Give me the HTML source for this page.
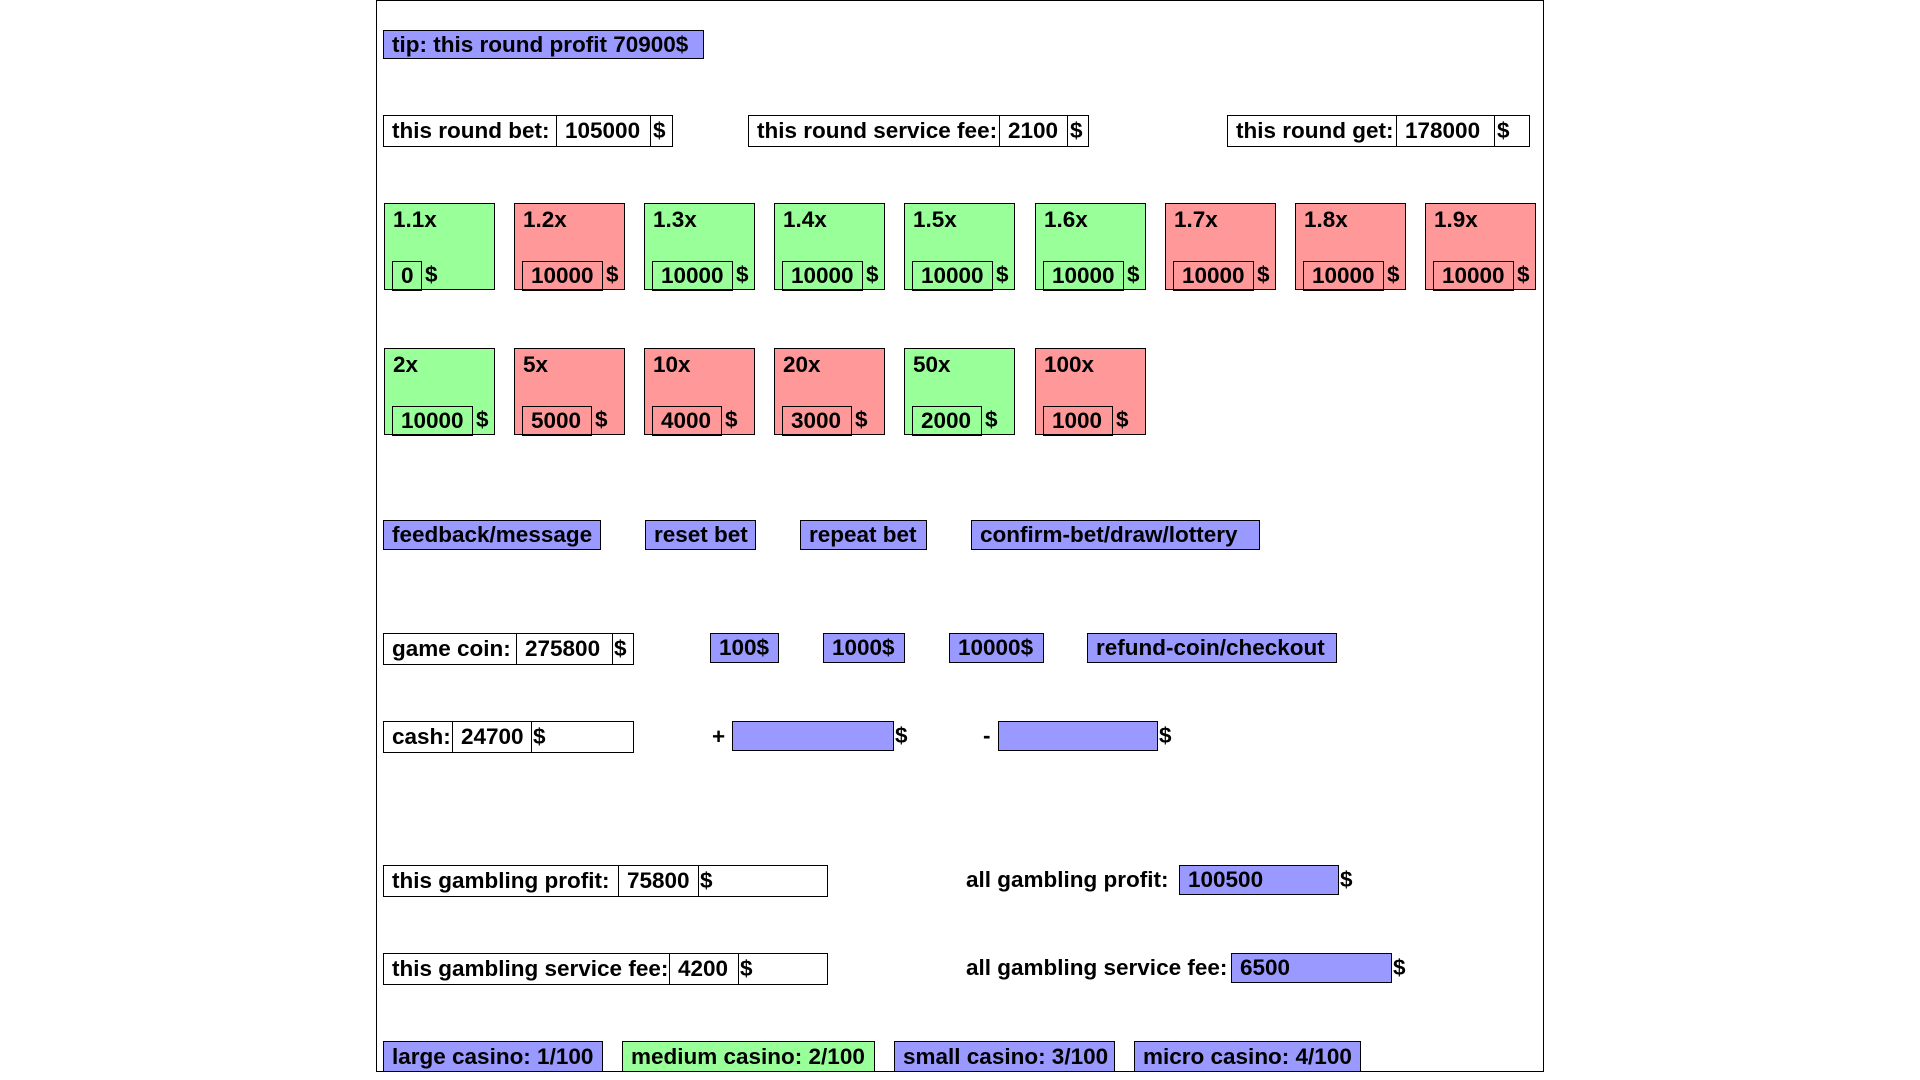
<!DOCTYPE html>
<html><head><meta charset="utf-8"><style>
body{margin:0;width:1920px;height:1080px;background:#fff;position:relative;overflow:hidden;font-family:"Liberation Sans",sans-serif;font-weight:bold;font-size:22.5px;color:#000}
.a{position:absolute;box-sizing:border-box}
.c{position:absolute;left:376px;top:0;width:1168px;height:1072px;border:1.5px solid #000;box-sizing:border-box;border-top:1px solid #000}
.b{position:absolute;box-sizing:border-box;border:1.5px solid #000;white-space:nowrap;line-height:28px;padding-left:8px}
.p{background:#9999ff}.g{background:#99ff99}.r{background:#ff9999}
.i{position:absolute;box-sizing:border-box;border:1.5px solid #000;line-height:28px;padding-left:8px;white-space:nowrap}
.t{position:absolute;white-space:nowrap;line-height:28px}
.card{position:absolute;box-sizing:border-box;border:1.5px solid #000;width:111px;height:87px}
.card .l{position:absolute;left:8px;top:2px;font-size:22.5px;line-height:28px}
.card .i{left:7px;bottom:-1.5px;height:30px;top:auto}
</style></head><body>
<div class="c"></div>
<div class="b p" style="left:383px;top:30px;width:321px;height:29px">tip: this round profit 70900$</div>

<div class="b" style="left:383px;top:115px;width:290px;height:32px;line-height:30px">this round bet:</div>
<div class="i" style="left:556px;top:115px;width:95px;height:32px;line-height:30px">105000</div><div class="t" style="left:653px;top:117px">$</div>
<div class="b" style="left:748px;top:115px;width:341px;height:32px;line-height:30px">this round service fee:</div>
<div class="i" style="left:999px;top:115px;width:69px;height:32px;line-height:30px">2100</div><div class="t" style="left:1070px;top:117px">$</div>
<div class="b" style="left:1227px;top:115px;width:303px;height:32px;line-height:30px">this round get:</div>
<div class="i" style="left:1396px;top:115px;width:99px;height:32px;line-height:30px">178000</div><div class="t" style="left:1497px;top:117px">$</div>

<div class="card g" style="left:384px;top:203px"><div class="l">1.1x</div><div class="i" style="width:30px">0</div><div class="t" style="left:40px;bottom:0">$</div></div>
<div class="card r" style="left:514px;top:203px"><div class="l">1.2x</div><div class="i" style="width:81px">10000</div><div class="t" style="left:91px;bottom:0">$</div></div>
<div class="card g" style="left:644px;top:203px"><div class="l">1.3x</div><div class="i" style="width:81px">10000</div><div class="t" style="left:91px;bottom:0">$</div></div>
<div class="card g" style="left:774px;top:203px"><div class="l">1.4x</div><div class="i" style="width:81px">10000</div><div class="t" style="left:91px;bottom:0">$</div></div>
<div class="card g" style="left:904px;top:203px"><div class="l">1.5x</div><div class="i" style="width:81px">10000</div><div class="t" style="left:91px;bottom:0">$</div></div>
<div class="card g" style="left:1035px;top:203px"><div class="l">1.6x</div><div class="i" style="width:81px">10000</div><div class="t" style="left:91px;bottom:0">$</div></div>
<div class="card r" style="left:1165px;top:203px"><div class="l">1.7x</div><div class="i" style="width:81px">10000</div><div class="t" style="left:91px;bottom:0">$</div></div>
<div class="card r" style="left:1295px;top:203px"><div class="l">1.8x</div><div class="i" style="width:81px">10000</div><div class="t" style="left:91px;bottom:0">$</div></div>
<div class="card r" style="left:1425px;top:203px"><div class="l">1.9x</div><div class="i" style="width:81px">10000</div><div class="t" style="left:91px;bottom:0">$</div></div>

<div class="card g" style="left:384px;top:348px"><div class="l">2x</div><div class="i" style="width:81px">10000</div><div class="t" style="left:91px;bottom:0">$</div></div>
<div class="card r" style="left:514px;top:348px"><div class="l">5x</div><div class="i" style="width:70px">5000</div><div class="t" style="left:80px;bottom:0">$</div></div>
<div class="card r" style="left:644px;top:348px"><div class="l">10x</div><div class="i" style="width:70px">4000</div><div class="t" style="left:80px;bottom:0">$</div></div>
<div class="card r" style="left:774px;top:348px"><div class="l">20x</div><div class="i" style="width:70px">3000</div><div class="t" style="left:80px;bottom:0">$</div></div>
<div class="card g" style="left:904px;top:348px"><div class="l">50x</div><div class="i" style="width:70px">2000</div><div class="t" style="left:80px;bottom:0">$</div></div>
<div class="card r" style="left:1035px;top:348px"><div class="l">100x</div><div class="i" style="width:70px">1000</div><div class="t" style="left:80px;bottom:0">$</div></div>

<div class="b p" style="left:383px;top:520px;width:218px;height:30px">feedback/message</div>
<div class="b p" style="left:645px;top:520px;width:111px;height:30px">reset bet</div>
<div class="b p" style="left:800px;top:520px;width:127px;height:30px">repeat bet</div>
<div class="b p" style="left:971px;top:520px;width:289px;height:30px">confirm-bet/draw/lottery</div>

<div class="b" style="left:383px;top:633px;width:251px;height:32px;line-height:30px">game coin:</div>
<div class="i" style="left:516px;top:633px;width:97px;height:32px;line-height:30px">275800</div><div class="t" style="left:614px;top:635px">$</div>
<div class="b p" style="left:710px;top:633px;width:69px;height:30px">100$</div>
<div class="b p" style="left:823px;top:633px;width:82px;height:30px">1000$</div>
<div class="b p" style="left:949px;top:633px;width:95px;height:30px">10000$</div>
<div class="b p" style="left:1087px;top:633px;width:250px;height:30px">refund-coin/checkout</div>

<div class="b" style="left:383px;top:721px;width:251px;height:32px;line-height:30px">cash:</div>
<div class="i" style="left:452px;top:721px;width:80px;height:32px;line-height:30px">24700</div><div class="t" style="left:533px;top:723px">$</div>
<div class="t" style="left:712px;top:723px">+</div>
<div class="i p" style="left:732px;top:721px;width:162px;height:30px"></div><div class="t" style="left:895px;top:722px">$</div>
<div class="t" style="left:983px;top:722px">-</div>
<div class="i p" style="left:998px;top:721px;width:160px;height:30px"></div><div class="t" style="left:1159px;top:722px">$</div>

<div class="b" style="left:383px;top:865px;width:445px;height:32px;line-height:30px">this gambling profit:</div>
<div class="i" style="left:618px;top:865px;width:81px;height:32px;line-height:30px">75800</div><div class="t" style="left:700px;top:867px">$</div>
<div class="t" style="left:966px;top:866px">all gambling profit:</div>
<div class="i p" style="left:1179px;top:865px;width:160px;height:30px">100500</div><div class="t" style="left:1340px;top:866px">$</div>

<div class="b" style="left:383px;top:953px;width:445px;height:32px;line-height:30px">this gambling service fee:</div>
<div class="i" style="left:669px;top:953px;width:70px;height:32px;line-height:30px">4200</div><div class="t" style="left:740px;top:955px">$</div>
<div class="t" style="left:966px;top:954px">all gambling service fee:</div>
<div class="i p" style="left:1231px;top:953px;width:161px;height:30px">6500</div><div class="t" style="left:1393px;top:954px">$</div>

<div class="b p" style="left:383px;top:1041px;width:220px;height:32px;line-height:30px">large casino: 1/100</div>
<div class="b g" style="left:622px;top:1041px;width:253px;height:32px;line-height:30px">medium casino: 2/100</div>
<div class="b p" style="left:894px;top:1041px;width:221px;height:32px;line-height:30px">small casino: 3/100</div>
<div class="b p" style="left:1134px;top:1041px;width:227px;height:32px;line-height:30px">micro casino: 4/100</div>
<div class="a" style="left:376px;top:1071px;width:1168px;height:9px;background:#fff;border-top:1.5px solid #000"></div>
</body></html>
